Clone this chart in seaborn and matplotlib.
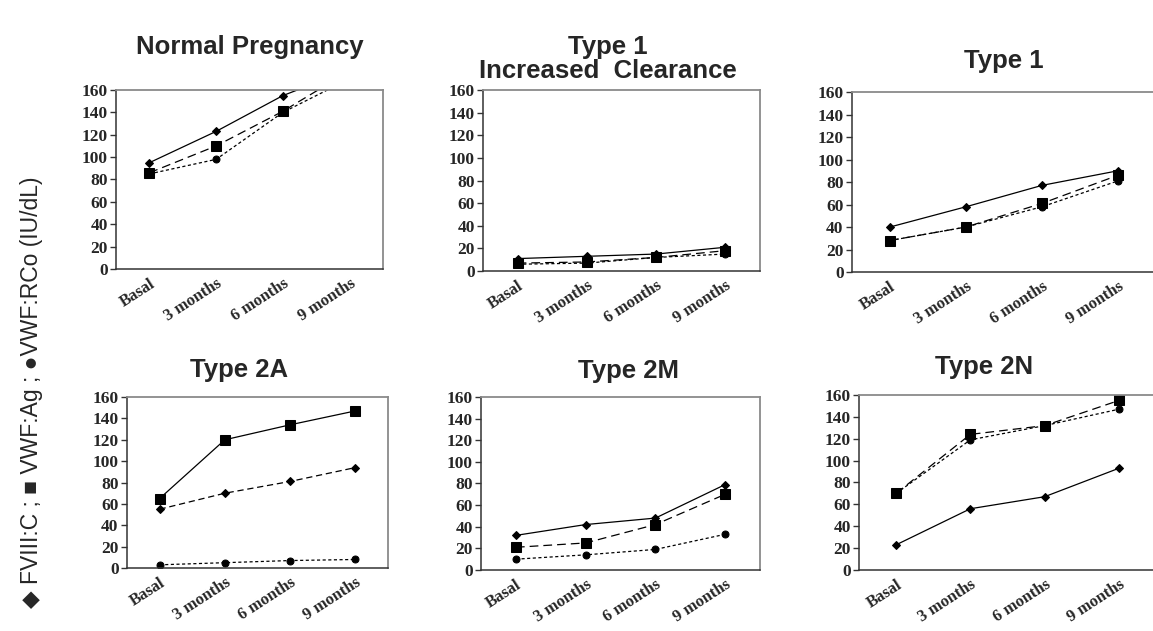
import matplotlib
matplotlib.use("Agg")
import matplotlib.pyplot as plt
import seaborn as sns
import numpy as np

sns.set_style("white")
plt.rcParams["font.family"] = ["Liberation Sans", "DejaVu Sans"]

categories = ["Basal", "3 months", "6 months", "9 months"]
yticks = [0, 20, 40, 60, 80, 100, 120, 140, 160]

# Normal Pregnancy (9-month values exceed the axis and are clipped)
normal_fviii = [95, 123, 155, 178]
normal_vwfag = [86, 110, 141, 177]
normal_rco = [85, 98, 140, 170]

# Type 1 Increased Clearance
t1ic_fviii = [11, 13, 15, 21]
t1ic_vwfag = [7, 8, 12, 18]
t1ic_rco = [6, 7, 12, 15]

# Type 1
t1_fviii = [40, 58, 77, 90]
t1_vwfag = [28, 40, 61, 86]
t1_rco = [28, 40, 58, 81]

# Type 2A
t2a_fviii = [55, 70, 81, 94]
t2a_vwfag = [65, 120, 134, 147]
t2a_rco = [3, 5, 7, 8]

# Type 2M
t2m_fviii = [32, 42, 48, 79]
t2m_vwfag = [21, 25, 42, 70]
t2m_rco = [10, 14, 19, 33]

# Type 2N
t2n_fviii = [23, 56, 67, 93]
t2n_vwfag = [70, 124, 132, 155]
t2n_rco = [70, 119, 132, 147]

SOLID = "-"
DASH = (0, (7, 4))
DOT = (0, (2.5, 2))
DASHDOT = (0, (5, 3))

panels = [
    ("Normal Pregnancy", [0.1006, 0.5737, 0.2316, 0.2837], 0.50, 1.24,
     [(normal_fviii, "D", SOLID), (normal_vwfag, "s", DASH), (normal_rco, "o", DOT)]),
    ("Type 1\nIncreased  Clearance", [0.4189, 0.5705, 0.2402, 0.2868], 0.45, 1.17,
     [(t1ic_fviii, "D", SOLID), (t1ic_vwfag, "s", DASH), (t1ic_rco, "o", DOT)]),
    ("Type 1", [0.7389, 0.5689, 0.2637, 0.2853], 0.50, 1.17,
     [(t1_fviii, "D", SOLID), (t1_vwfag, "s", DASH), (t1_rco, "o", DOT)]),
    ("Type 2A", [0.1101, 0.0998, 0.2264, 0.2710], 0.43, 1.16,
     [(t2a_fviii, "D", DASHDOT), (t2a_vwfag, "s", SOLID), (t2a_rco, "o", DOT)]),
    ("Type 2M", [0.4172, 0.0967, 0.2420, 0.2742], 0.53, 1.15,
     [(t2m_fviii, "D", SOLID), (t2m_vwfag, "s", DASH), (t2m_rco, "o", DOT)]),
    ("Type 2N", [0.7450, 0.0967, 0.2576, 0.2773], 0.42, 1.16,
     [(t2n_fviii, "D", SOLID), (t2n_vwfag, "s", DASH), (t2n_rco, "o", DOT)]),
]

msizes = {"D": 4.5, "s": 6.5, "o": 5.0}

fig = plt.figure(figsize=(11.53, 6.31), dpi=100)
fig.patch.set_facecolor("white")

for title, rect, tx, ty, series in panels:
    ax = fig.add_axes(rect)
    for vals, mk, ls in series:
        sns.lineplot(x=categories, y=vals, ax=ax, color="black", marker=mk,
                     markersize=msizes[mk], markeredgecolor="black",
                     linewidth=0.9, linestyle=ls, sort=False)
    ax.set_xlim(-0.5, 3.5)
    ax.set_ylim(0, 160)
    ax.set_yticks(yticks)
    ax.set_yticklabels([str(v) for v in yticks], family="Liberation Serif",
                       fontweight="bold", fontsize=12.5)
    ax.set_xticks(range(len(categories)))
    ax.set_xticklabels(categories, family="Liberation Serif", fontweight="bold",
                       fontsize=12, rotation=33, ha="right", rotation_mode="anchor")
    ax.set_xticks(np.arange(-0.5, 4.0, 1.0), minor=True)
    ax.tick_params(axis="x", which="major", length=0, pad=5)
    ax.tick_params(axis="x", which="minor", length=4, width=1, color="#333333",
                   direction="out")
    ax.tick_params(axis="y", length=4, width=1, color="#333333", direction="out",
                   pad=2, left=True)
    ax.set_xlabel("")
    ax.set_ylabel("")
    for side in ["left", "bottom"]:
        ax.spines[side].set_color("#333333")
        ax.spines[side].set_linewidth(1.1)
    for side in ["top", "right"]:
        ax.spines[side].set_color("#8a8a8a")
        ax.spines[side].set_linewidth(1.3)
    ax.text(tx, ty, title, transform=ax.transAxes, ha="center", va="center",
            fontsize=18.5, fontweight="bold", family=["Liberation Sans", "DejaVu Sans"],
            linespacing=1.0)

fig.text(0.027, 0.379, "◆ FVIII:C ; ■ VWF:Ag ; ●VWF:RCo (IU/dL)", rotation=90,
         ha="center", va="center", fontsize=16.5, family=["Liberation Sans", "DejaVu Sans"])

fig.savefig("out.png", dpi=100, facecolor="white")
